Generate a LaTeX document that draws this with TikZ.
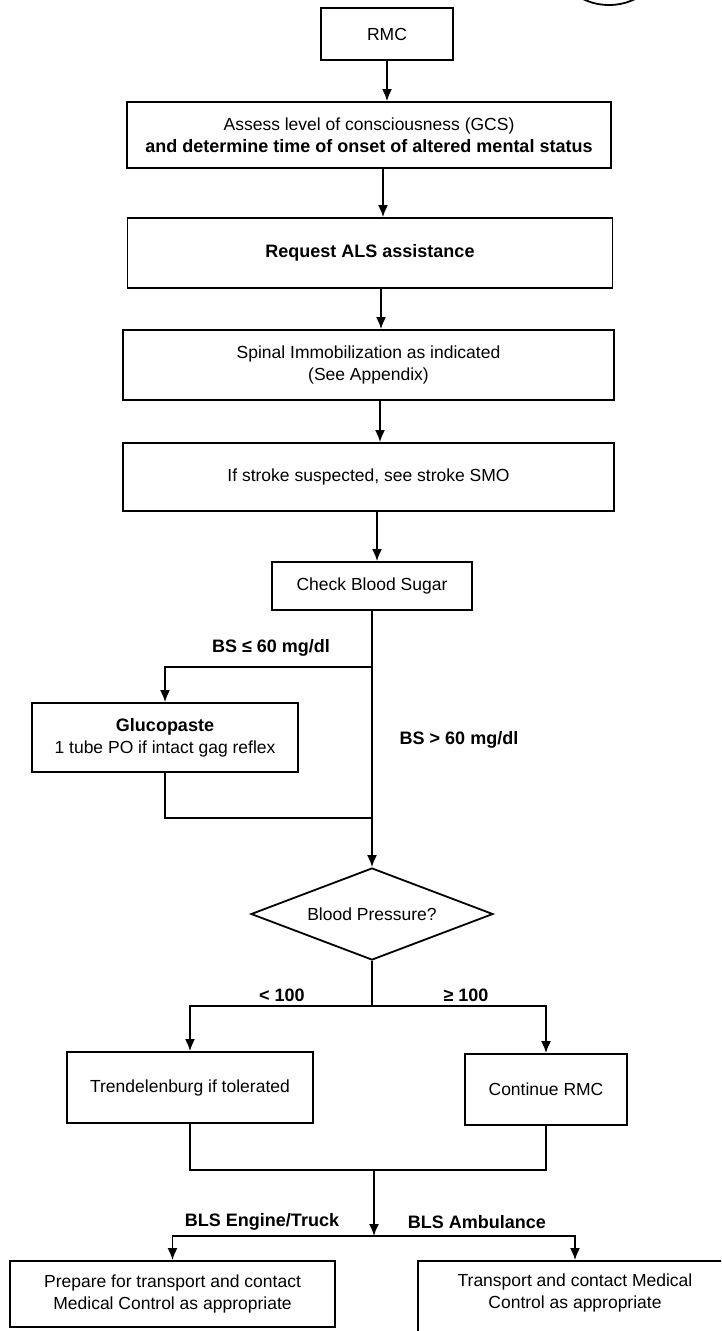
\documentclass[tikz,border=0pt]{standalone}
\usepackage{fontspec}
\setmainfont{Liberation Sans}
\usetikzlibrary{shapes.geometric,arrows.meta}
\newcommand\myfs{\fontsize{17.5}{22}\selectfont}
\newcommand\mybf{\fontsize{18}{22}\selectfont\bfseries}
\begin{document}
\begin{tikzpicture}[x=1pt,y=-1pt,
  box/.style={draw,line width=1.8pt,align=center,inner sep=0pt,font=\myfs},
  diam/.style={draw,diamond,aspect=2.63,minimum width=242pt,minimum height=92pt,inner sep=0pt,line width=1.8pt,font=\myfs},
  lbl/.style={font=\mybf,inner sep=1pt},
  txt/.style={font=\myfs,align=center,inner sep=0pt},
  arr/.style={line width=1.8pt,-{Latex[length=12pt,width=10pt]}},
  ln/.style={line width=1.8pt}]
\useasboundingbox (0,0) rectangle (721,1331);
\clip (0,0) rectangle (721,1331);
\fill[white] (0,0) rectangle (721,1331);

\draw[ln] (609,-55) circle[radius=60pt];

\node[box,minimum width=132pt,minimum height=52pt] (rmc) at (387,34) {RMC};
\node[box,minimum width=484pt,minimum height=66pt] (assess) at (369,135) {Assess level of consciousness (GCS)\\ {\mybf and determine time of onset of altered mental status}};
\node[box,minimum width=485pt,minimum height=70pt] (req) at (370,253) {{\mybf Request ALS assistance}};
\node[box,minimum width=491pt,minimum height=70pt] (spinal) at (368.5,365) {Spinal Immobilization as indicated\\(See Appendix)};
\node[box,minimum width=491pt,minimum height=68pt] (stroke) at (368.5,477) {If stroke suspected, see stroke SMO};
\node[box,minimum width=200pt,minimum height=48pt] (cbs) at (372,586) {Check Blood Sugar};
\node[box,minimum width=266pt,minimum height=69pt] (gluc) at (165,737.5) {{\mybf Glucopaste}\\1 tube PO if intact gag reflex};
\node[diam] (bp) at (372,914) {Blood Pressure?};
\node[box,minimum width=246pt,minimum height=71pt] (trend) at (190,1087.5) {Trendelenburg if tolerated};
\node[box,minimum width=162pt,minimum height=71pt] (cont) at (546,1089.5) {Continue RMC};
\node[box,minimum width=325pt,minimum height=66pt] (prep) at (172.5,1294) {Prepare for transport and contact\\Medical Control as appropriate};
\node[box,minimum width=314pt,minimum height=80pt] (trans) at (575,1301) {};
\node[txt] (transtxt) at (575,1293) {Transport and contact Medical\\Control as appropriate};

% connectors
\draw[arr] (rmc.south) -- (rmc.south |- assess.north);
\draw[arr] ([xshift=14pt]assess.south) -- ([xshift=14pt]assess.south |- req.north);
\draw[arr] ([xshift=11pt]req.south) -- ([xshift=11pt]req.south |- spinal.north);
\draw[arr] ([xshift=11.5pt]spinal.south) -- ([xshift=11.5pt]spinal.south |- stroke.north);
\draw[arr] ([xshift=8.5pt]stroke.south) -- ([xshift=8.5pt]stroke.south |- cbs.north);

\coordinate (br1) at (372,667);
\coordinate (mg1) at (372,818);
\draw[arr] (cbs.south) -- (bp.north);
\draw[arr] (br1) -| (gluc.north);
\draw[ln] (gluc.south) |- (mg1);
\node[lbl] (l1) at (271,648) {BS ≤ 60 mg/dl};
\node[lbl] (l2) at (459,740) {BS > 60 mg/dl};

\coordinate (br2) at (372,1006);
\draw[ln] (bp.south) -- (br2);
\draw[arr] (br2) -| (trend.north);
\draw[arr] (br2) -| (cont.north);
\node[lbl] (l3) at (282,995) {< 100};
\node[lbl] (l4) at (466,995) {≥ 100};

\coordinate (mg2) at (374,1170);
\coordinate (br3) at (374,1236);
\draw[ln] (trend.south) |- (mg2);
\draw[ln] (cont.south) |- (mg2);
\draw[arr] (mg2) -- (br3);
\draw[arr] (br3) -| (prep.north);
\draw[arr] (br3) -| (trans.north);
\node[lbl] (l5) at (262,1222) {BLS Engine/Truck};
\node[lbl] (l6) at (477,1222) {BLS Ambulance};
\end{tikzpicture}
\end{document}
